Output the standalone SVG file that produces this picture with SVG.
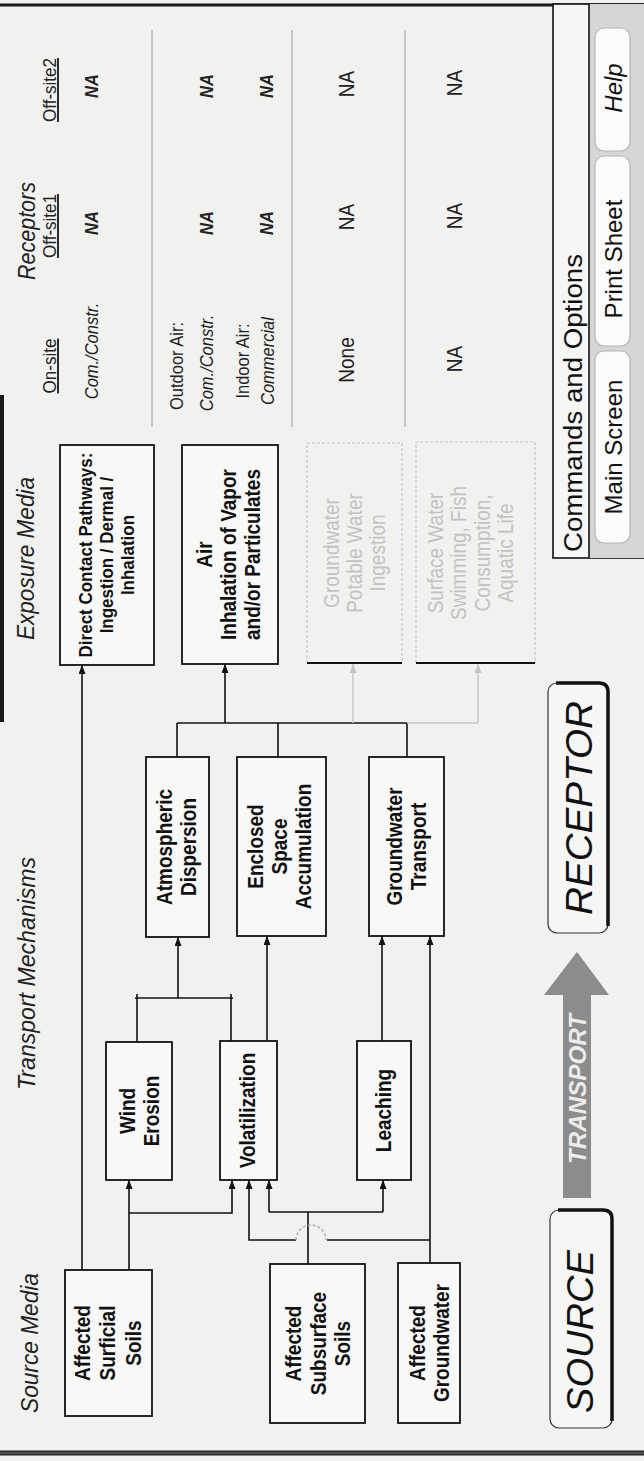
<svg xmlns="http://www.w3.org/2000/svg" width="644" height="1461" viewBox="0 0 644 1461">
<defs>
<marker id="ah" viewBox="0 0 9 7" refX="9" refY="3.5" markerWidth="9" markerHeight="7" markerUnits="userSpaceOnUse" orient="auto"><path d="M0,0 L9,3.5 L0,7 z" fill="#111"/></marker>
<marker id="ahg" viewBox="0 0 9 7" refX="9" refY="3.5" markerWidth="9" markerHeight="7" markerUnits="userSpaceOnUse" orient="auto"><path d="M0,0 L9,3.5 L0,7 z" fill="#c4c4c4"/></marker>
<style>
.box{fill:#f8f8f7;stroke:#111;stroke-width:1.8}
.gbox{fill:none;stroke:#c6c6c6;stroke-width:1.2;stroke-dasharray:3 2}
.t{font-family:"Liberation Sans",Arial,Helvetica,sans-serif;fill:#111}
.lb{font-size:19px;font-weight:bold;text-anchor:middle}
.lbs{font-size:17px;font-weight:bold;text-anchor:middle}
.gt{font-size:19px;text-anchor:middle;fill:#c2c2c2}
.hd{font-size:22px;font-style:italic;fill:#222}
.col{font-size:17px;text-anchor:middle;text-decoration:underline;fill:#222}
.sm{font-size:16.5px;text-anchor:middle;fill:#222}
.smi{font-size:16.5px;font-style:italic;text-anchor:middle;fill:#222}
.md{font-size:19px;text-anchor:middle;fill:#222}
.c{fill:none;stroke:#111;stroke-width:1.6}
.cg{fill:none;stroke:#c4c4c4;stroke-width:1.4}
.div{stroke:#9a9a9a;stroke-width:1}
.btn{fill:#fbfbfb;stroke:#b4b4b4;stroke-width:1.2}
.bt{font-size:24px;text-anchor:middle;fill:#111}
</style>
</defs>
<rect x="0" y="0" width="644" height="1461" fill="#f1f1ef"/>
<g transform="translate(0,1461) rotate(-90)">
  <g id="frame">
    <line x1="1456" y1="0" x2="1456" y2="644" stroke="#1a1a1a" stroke-width="3"/>
    <line x1="8" y1="0" x2="8" y2="644" stroke="#2a2a2a" stroke-width="5"/>
    <line x1="8" y1="0" x2="8" y2="644" stroke="#777" stroke-width="1"/>
    <line x1="739" y1="2" x2="1066" y2="2" stroke="#1a1a1a" stroke-width="4"/>
  </g>
  <g id="headings" transform="scale(1 1.12)">
    <text class="t hd" x="48" y="33.93" textLength="140" lengthAdjust="spacingAndGlyphs">Source Media</text>
    <text class="t hd" x="371" y="31.25" textLength="233" lengthAdjust="spacingAndGlyphs">Transport Mechanisms</text>
    <text class="t hd" x="821" y="30.36" textLength="163" lengthAdjust="spacingAndGlyphs">Exposure Media</text>
    <text class="t hd" x="1181" y="31.25" textLength="98" lengthAdjust="spacingAndGlyphs">Receptors</text>
  </g>
  <g id="connectors">
    <path class="c" d="M191,82 H796" marker-end="url(#ah)"/>
    <path class="c" d="M191,129 H281" marker-end="url(#ah)"/>
    <path class="c" d="M248,129 V232 H281" marker-end="url(#ah)"/>
    <path class="c" d="M197,308 H249"/>
    <path class="c" d="M249,269 V383"/>
    <path class="c" d="M249,269 H281" marker-end="url(#ah)"/>
    <path class="c" d="M249,383 H281" marker-end="url(#ah)"/>
    <path class="c" d="M198,430 H525" marker-end="url(#ah)"/>
    <path class="c" d="M221,430 V327"/>
    <path class="c" d="M221,296 V249 H281" marker-end="url(#ah)"/>
    <path fill="none" stroke="#a8a8a8" stroke-width="1.3" stroke-dasharray="3 2" d="M221,296 A15,15 0 0 1 221,326"/>
    <path class="c" d="M419,137 H467"/>
    <path class="c" d="M420,231 H467"/>
    <path class="c" d="M463,135 V233"/>
    <path class="c" d="M463,178 H524" marker-end="url(#ah)"/>
    <path class="c" d="M420,267 H525" marker-end="url(#ah)"/>
    <path class="c" d="M420,382 H525" marker-end="url(#ah)"/>
    <path class="c" d="M704,177 H738"/>
    <path class="c" d="M704,278 H738"/>
    <path class="c" d="M704,407 H738"/>
    <path class="c" d="M738,177 V407"/>
    <path class="c" d="M738,225 H797" marker-end="url(#ah)"/>
    <path class="cg" d="M738,407 V478"/>
    <path class="cg" d="M738,353 H797" marker-end="url(#ahg)"/>
    <path class="cg" d="M738,478 H797" marker-end="url(#ahg)"/>
  </g>
  <g id="n-surficial">
    <rect class="box" x="45" y="65" width="146" height="87"/>
    <g transform="scale(1 1.12)">
      <text class="t lb" x="118" y="80.36">Affected</text>
      <text class="t lb" x="118" y="102.68">Surficial</text>
      <text class="t lb" x="118" y="125.89">Soils</text>
    </g>
  </g>
  <g id="n-subsurface">
    <rect class="box" x="38" y="270" width="159" height="95"/>
    <g transform="scale(1 1.12)">
      <text class="t lb" x="117.5" y="268.75">Affected</text>
      <text class="t lb" x="117.5" y="291.07">Subsurface</text>
      <text class="t lb" x="117.5" y="312.5">Soils</text>
    </g>
  </g>
  <g id="n-groundwater">
    <rect class="box" x="38" y="398" width="160" height="62"/>
    <g transform="scale(1 1.12)">
      <text class="t lb" x="118" y="379.46">Affected</text>
      <text class="t lb" x="118" y="400.89">Groundwater</text>
    </g>
  </g>
  <g id="n-wind">
    <rect class="box" x="281" y="106" width="138" height="66"/>
    <g transform="scale(1 1.12)">
      <text class="t lb" x="350" y="120.54">Wind</text>
      <text class="t lb" x="350" y="141.96">Erosion</text>
    </g>
  </g>
  <g id="n-volatilization">
    <rect class="box" x="281" y="220" width="139" height="57"/>
    <g transform="scale(1 1.12)">
      <text class="t lb" x="350.5" y="227.68">Volatilization</text>
    </g>
  </g>
  <g id="n-leaching">
    <rect class="box" x="281" y="357" width="139" height="54"/>
    <g transform="scale(1 1.12)">
      <text class="t lb" x="350.5" y="349.11">Leaching</text>
    </g>
  </g>
  <g id="n-atmospheric">
    <rect class="box" x="524" y="146" width="180" height="63"/>
    <g transform="scale(1 1.12)">
      <text class="t lb" x="614" y="153.57">Atmospheric</text>
      <text class="t lb" x="614" y="175">Dispersion</text>
    </g>
  </g>
  <g id="n-enclosed">
    <rect class="box" x="525" y="237" width="179" height="89"/>
    <g transform="scale(1 1.12)">
      <text class="t lb" x="614.5" y="234.82">Enclosed</text>
      <text class="t lb" x="614.5" y="256.25">Space</text>
      <text class="t lb" x="614.5" y="277.68">Accumulation</text>
    </g>
  </g>
  <g id="n-gwtransport">
    <rect class="box" x="525" y="369" width="179" height="75"/>
    <g transform="scale(1 1.12)">
      <text class="t lb" x="614.5" y="358.93">Groundwater</text>
      <text class="t lb" x="614.5" y="380.36">Transport</text>
    </g>
  </g>
  <g id="n-direct">
    <rect class="box" x="796" y="60" width="220" height="94"/>
    <g transform="scale(1 1.12)">
      <text class="t lbs" x="906" y="82.14">Direct Contact Pathways:</text>
      <text class="t lbs" x="906" y="100.89">Ingestion / Dermal /</text>
      <text class="t lbs" x="906" y="119.64">Inhalation</text>
    </g>
  </g>
  <g id="n-air">
    <rect class="box" x="797" y="182" width="219" height="96"/>
    <g transform="scale(1 1.12)">
      <text class="t lb" x="906.5" y="189.29">Air</text>
      <text class="t lb" x="906.5" y="210.71">Inhalation of Vapor</text>
      <text class="t lb" x="906.5" y="232.14">and/or Particulates</text>
    </g>
  </g>
  <g id="n-gwpotable">
    <rect class="gbox" x="798" y="307" width="220" height="95"/>
    <line x1="798" y1="307" x2="798" y2="402" stroke="#111" stroke-width="2"/>
    <g transform="scale(1 1.12)">
      <text class="t gt" x="908" y="302.68">Groundwater</text>
      <text class="t gt" x="908" y="323.21">Potable Water</text>
      <text class="t gt" x="908" y="343.75">Ingestion</text>
    </g>
  </g>
  <g id="n-surfacewater">
    <rect class="gbox" x="798" y="416" width="221" height="119"/>
    <line x1="798" y1="416" x2="798" y2="535" stroke="#111" stroke-width="2"/>
    <g transform="scale(1 1.12)">
      <text class="t gt" x="908" y="395.54">Surface Water</text>
      <text class="t gt" x="908" y="416.07">Swimming, Fish</text>
      <text class="t gt" x="908" y="437.5">Consumption,</text>
      <text class="t gt" x="908" y="458.04">Aquatic Life</text>
    </g>
  </g>
  <g id="receptors">
    <line class="div" x1="1034" y1="152" x2="1431" y2="152"/>
    <line class="div" x1="1034" y1="292" x2="1431" y2="292"/>
    <line class="div" x1="1034" y1="405" x2="1431" y2="405"/>
    <g transform="scale(1 1.12)">
      <text class="t col" x="1095" y="50">On-site</text>
      <text class="t col" x="1235" y="50">Off-site1</text>
      <text class="t col" x="1371" y="50">Off-site2</text>
      <text class="t smi" x="1110" y="87.5">Com./Constr.</text>
      <text class="t smi" x="1238" y="87.5" font-weight="bold">NA</text>
      <text class="t smi" x="1375" y="87.5" font-weight="bold">NA</text>
      <text class="t sm" x="1095" y="163.39">Outdoor Air:</text>
      <text class="t smi" x="1098" y="190.18">Com./Constr.</text>
      <text class="t sm" x="1100" y="222.32">Indoor Air:</text>
      <text class="t smi" x="1100" y="244.64">Commercial</text>
      <text class="t smi" x="1238" y="190.18" font-weight="bold">NA</text>
      <text class="t smi" x="1375" y="190.18" font-weight="bold">NA</text>
      <text class="t smi" x="1238" y="243.75" font-weight="bold">NA</text>
      <text class="t smi" x="1375" y="243.75" font-weight="bold">NA</text>
      <text class="t md" x="1101" y="316.07">None</text>
      <text class="t md" x="1244" y="316.07">NA</text>
      <text class="t md" x="1377" y="316.07">NA</text>
      <text class="t md" x="1102" y="412.5">NA</text>
      <text class="t md" x="1245" y="412.5">NA</text>
      <text class="t md" x="1378" y="412.5">NA</text>
    </g>
  </g>
  <g id="n-source">
    <rect x="33" y="550" width="218" height="62" rx="9" fill="#f6f6f5" stroke="#333" stroke-width="1.2"/>
    <path d="M40,612 H242 Q251,612 251,603 V558" fill="none" stroke="#111" stroke-width="3.5"/>
    <text class="t" x="129.5" y="593" font-size="36" font-style="italic" text-anchor="middle" textLength="163" lengthAdjust="spacingAndGlyphs">SOURCE</text>
  </g>
  <g id="n-transport-arrow">
    <polygon points="263,563 466,563 466,544 509,577 466,609 466,591 263,591" fill="#8c8c8c"/>
    <text class="t" x="372" y="586" font-size="24" font-weight="bold" font-style="italic" style="fill:#ececec" text-anchor="middle" textLength="150" lengthAdjust="spacingAndGlyphs">TRANSPORT</text>
  </g>
  <g id="n-receptor">
    <rect x="528" y="548" width="250" height="60" rx="9" fill="#f6f6f5" stroke="#333" stroke-width="1.2"/>
    <path d="M535,608 H769 Q778,608 778,599 V556" fill="none" stroke="#111" stroke-width="3.5"/>
    <text class="t" x="653" y="592" font-size="36" font-style="italic" text-anchor="middle" textLength="214" lengthAdjust="spacingAndGlyphs">RECEPTOR</text>
  </g>
  <g id="n-commands">
    <rect x="903" y="553" width="554" height="91" fill="#f6f6f5" stroke="#111" stroke-width="1.6"/>
    <rect x="903" y="589" width="554" height="55" fill="#d6d6d4"/>
    <line x1="903" y1="589" x2="1457" y2="589" stroke="#111" stroke-width="1.6"/>
    <text class="t" x="1058" y="582" font-size="26" text-anchor="middle" textLength="298" lengthAdjust="spacingAndGlyphs">Commands and Options</text>
    <rect class="btn" x="918" y="595" width="192" height="35" rx="9"/>
    <text class="t bt" x="1014" y="622">Main Screen</text>
    <rect class="btn" x="1115" y="595" width="190" height="35" rx="9"/>
    <text class="t bt" x="1202" y="622">Print Sheet</text>
    <rect class="btn" x="1310" y="595" width="123" height="35" rx="9"/>
    <text class="t bt" x="1373" y="622" font-style="italic">Help</text>
  </g>
</g>
</svg>
